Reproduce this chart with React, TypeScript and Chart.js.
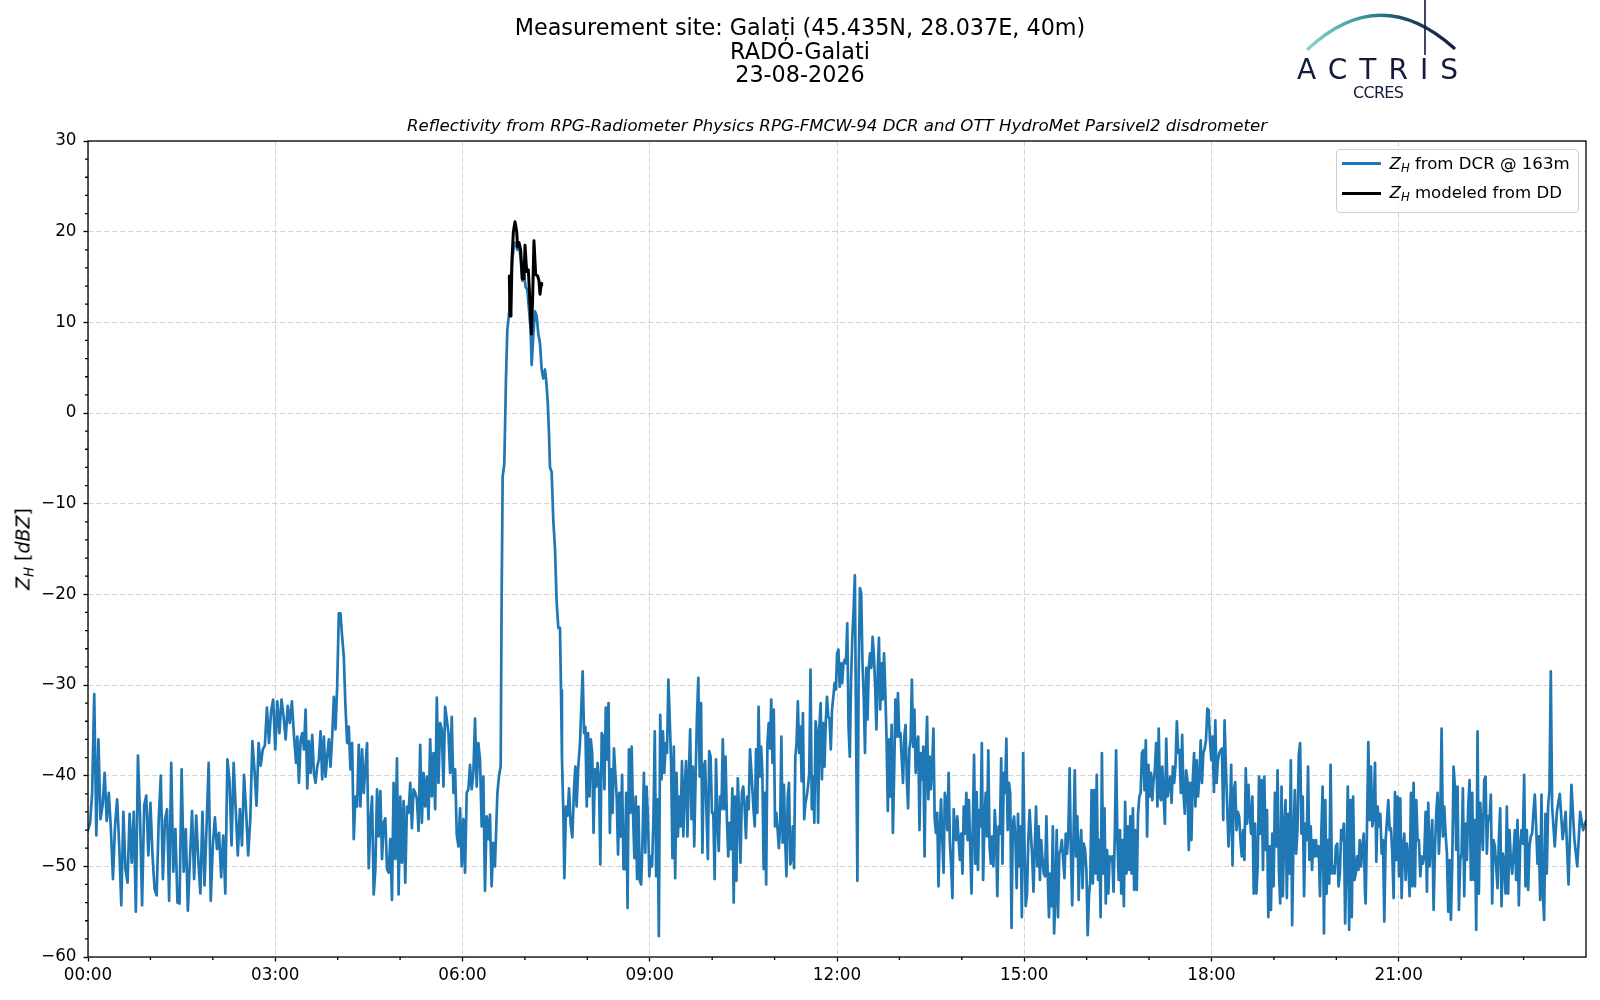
import React, { useEffect, useRef } from "react";
import { Chart, registerables } from "chart.js";

Chart.register(...registerables);

// ---------- text ----------
const TITLE_LINES = [
  "Measurement site: Galați (45.435N, 28.037E, 40m)",
  "RADO-Galati",
  "23-08-2026",
];
const SUBTITLE =
  "Reflectivity from RPG-Radiometer Physics RPG-FMCW-94 DCR and OTT HydroMet Parsivel2 disdrometer";
const LEGEND_DCR = " from DCR @ 163m";
const LEGEND_DD = " modeled from DD";

// ---------- axes ----------
const X_MIN = 0;
const X_MAX = 1440; // minutes of the day
const X_MAJOR_STEP = 180;
const X_MINOR = [60, 120, 240, 300, 420, 480, 600, 660, 780, 840, 960, 1020, 1140, 1200, 1320, 1380];
const Y_MIN = -60;
const Y_MAX = 30;
const Y_MAJOR_STEP = 10;
const Y_MINOR = [-58, -56, -54, -52, -48, -46, -44, -42, -38, -36, -34, -32, -28, -26, -24, -22, -18, -16, -14, -12, -8, -6, -4, -2, 2, 4, 6, 8, 12, 14, 16, 18, 22, 24, 26, 28];

// ---------- DCR reflectivity (dBZ) ----------
// each segment: [start minute, end minute], values evenly spread inside it
const DCR_A_SPAN = [0, 200];
const DCR_A = [-46,-45.2,-41.9,-31,-46.6,-36,-44.8,-43.3,-39.7,-45,-41.9,-45.9,-51.4,-45.5,-42.6,-47.7,-54.3,-44,-50.3,-51.8,-44.2,-49.6,-44,-55,-37.8,-44.4,-54.3,-43.3,-42.2,-48.8,-43,-48.8,-52.5,-53.2,-44.8,-40,-51.4,-44.8,-43.7,-53.8,-38.6,-50.6,-45.9,-54,-54.1,-39.3,-50.6,-45.9,-54.9,-49.2,-43.9,-51.4,-44.4,-49.2,-53,-44,-52.1,-45.5,-38.6,-53.8,-47.7,-44.6,-48.1,-46.3,-51.2,-46.6,-53,-38.2,-40.4,-47.7,-38.6,-43.7,-48.8,-43.7,-47.7,-39.9,-44,-48.8,-44.8,-36.2,-39.3,-43.3,-36.4,-38.9,-37.1,-36.7,-32.5,-36.4,-32.9,-31.6,-37.1,-31.8,-35.3,-31.6,-33.4,-36,-32.3,-34.2,-31.8,-35.6,-38.6];

const DCR_B_SPAN = [201.2, 391.2];
const DCR_B = [-35.7,-40.8,-36,-35.3,-37.1,-32.7,-41.4,-36.2,-39.7,-35.5,-39.7,-40.8,-39,-38.2,-35.1,-40.4,-35.7,-40.1,-37.9,-36,-39,-35.7,-31.3,-34.9,-30.2,-22.1,-22.1,-24.7,-26.9,-32.4,-36.4,-34.6,-39.3,-36.4,-47,-42.3,-43.4,-36.6,-43.4,-37.1,-41.9,-39,-36.4,-50.2,-45.2,-42.3,-53.1,-50.3,-41.5,-46.7,-41.7,-49.2,-45.2,-44.7,-50.3,-50.7,-47,-53.7,-40.8,-49.2,-38.1,-53.1,-42.3,-49.6,-42.8,-51.8,-43.4,-44.1,-40.8,-45.8,-41.5,-41.9,-42.6,-46.1,-36.6,-45.2,-39.7,-43.4,-40.1,-44.8,-36,-42.3,-37.5,-43.7,-31.4,-40.8,-34.2,-34.9,-41.2,-32.4,-33.8,-35.3,-39.7,-33.5,-41.9,-39.3,-46.5,-47.8,-43.6,-50,-44.8,-50.7,-41.9,-41.5,-38.8,-41.5,-39.7,-33.7,-41.2,-36.4,-38.2,-45.6,-40.1,-52.7,-44.5,-47,-44.3,-52.2,-47.4,-50];

// rain event: explicit times (minutes)
const DCR_C_TIMES = [393.5,395.1,396.7,397.6,398.6,400.2,401.8,403.1,405.0,406.3,407.9,409.5,411.1,412.7,414.3,415.9,417.5,419.1,420.7,422.3,423.9,425.5,426.5,428.1,429.7,431.3,432.9,434.5,436.1,437.7,439.3,440.3,441.9,443.1,444.1,445.7,447.3,448.9,450.5,452.1,453.7,454.7,455.6,456.9,457.9,459.5,461.1,462.4,464.0,465.6,467.2,468.5,469.7,471.3,472.9];
const DCR_C = [-42,-40,-39,-20.8,-7,-5.6,3.8,9.2,11.2,14.6,17,18.5,18.8,18,18.5,17,14.6,15.3,13.9,13.6,11.4,9.2,5.3,8.7,11.2,10.7,8.7,7.7,4.8,3.8,4.8,3.8,1.3,-2.1,-6,-6.5,-11.9,-14.9,-20.8,-23.7,-23.7,-30.6,-38,-43.9,-51.3,-43.4,-44.4,-41.4,-45.4,-46.8,-41.4,-39,-43.4,-39,-36.5];

const DCR_D_SPAN = [475.5, 636.4];
const DCR_D = [-28.5,-35.3,-34.6,-43.4,-35.3,-42.3,-36,-37.5,-46.3,-39.3,-41.2,-38.6,-40.4,-49.8,-35.3,-35.7,-41.5,-32.5,-38.2,-32,-46.3,-39.3,-44.1,-37,-39.7,-42.3,-48.7,-41.9,-46.7,-39.9,-50.3,-50.3,-41.9,-54.6,-37.1,-44.1,-36.8,-44.1,-49.1,-42.3,-51.4,-43.4,-51.6,-52,-47,-39.7,-48.5,-41.2,-44.8,-51.1,-48.9,-50,-44.8,-35.1,-51.1,-42.6,-57.7,-33.3,-40.4,-35.1,-39.7,-36.4,-37.5,-29.4,-33.8,-38.6,-49.1,-36.8,-51.3,-39.7,-46.7,-42.3,-45.6,-38.4,-46.7,-41.2,-38.4,-46.7,-40.1,-34.9,-44.8,-39,-47.8,-40.1,-33.5,-29.2,-40.1,-32,-48.5,-39,-38.4,-44.1,-49.2,-37.3,-37.9,-44.1,-44.1,-51.4,-38.2,-44.8,-48.3,-42.3,-43.7,-36,-43.7,-37.9,-44.8,-48.9,-45.2,-48.1,-41.4,-54,-42.3,-51.6,-40.3,-44.1,-49.6,-41.9,-41.2,-43.4,-46.9,-42.3,-43.7,-37.1];

const DCR_E_SPAN = [637.3, 833.4];
const DCR_E = [-37.1,-41.2,-43.7,-45.6,-37.1,-44.1,-32.4,-40.1,-36.8,-39.7,-50.3,-41.9,-52,-36.4,-34.2,-37,-31.6,-38.6,-32.7,-45.6,-44.1,-45.9,-48,-45.6,-35.7,-47.4,-41,-47,-51.1,-42.3,-40.8,-49.8,-49.2,-45.6,-50.2,-37.9,-36.4,-31.8,-37.5,-34.6,-40.6,-33.1,-44.8,-43,-42.3,-41.2,-39.7,-28.3,-43.7,-40.1,-45.2,-34,-35.3,-45.2,-34.6,-32,-40.4,-34.2,-39,-34.2,-31.3,-33.5,-33.7,-37.1,-32.7,-31.3,-29.8,-30.5,-26.5,-26.1,-30.2,-27.6,-29.8,-27.6,-27.2,-27.6,-23.2,-34.6,-37.9,-29.4,-24.7,-21.7,-17.9,-36,-51.6,-28.7,-19.3,-19.9,-27.6,-31.3,-37.5,-28.1,-33.8,-28,-26.5,-28.1,-24.7,-26.7,-30.2,-34.9,-28.7,-24.8,-32.7,-27.6,-31.6,-26.5,-30.5,-36,-43.9,-36,-42.3,-34.4,-46.3,-39.7,-31.6,-35.7,-30.9,-35.7,-35.3,-38.2,-40.8,-35.7,-34.4,-40.4,-43.6,-37.1,-36,-29.4,-36.8,-32.7,-39.7,-36.4,-35.7,-46,-37.5,-40.4,-36.8,-48.9,-37.9,-33.5,-42.6,-37.9,-41.5,-39,-34.8,-44.8,-46.3,-44.1,-52.2,-46.3,-42.6,-47,-50.7,-41.9,-43,-46,-39.7,-47.4,-50,-53.5,-43.7,-46];

const DCR_F_SPAN = [834.4, 1030.5];
const DCR_F = [-47.1,-44.5,-47.1,-49.3,-46.4,-50.8,-43.4,-46.4,-41.9,-47.1,-42.7,-47.8,-53,-45.6,-37.7,-49.7,-41.8,-50.4,-43.8,-45.6,-36.4,-51.5,-45.3,-41.9,-46.7,-37.2,-47.8,-49.7,-46.7,-50,-43.8,-46.4,-53.3,-45.6,-46.4,-38.1,-49.7,-39.7,-41.9,-35.9,-46,-40.8,-41.9,-56.8,-45.3,-44.5,-47.1,-52.4,-44.2,-50,-45.6,-55.6,-37.5,-47.1,-54.4,-53,-47.1,-43.8,-46.4,-48.9,-52.8,-47.8,-43.4,-50,-45.6,-51.5,-47.1,-49.3,-50.8,-51.1,-44.5,-50.8,-55.6,-50.8,-54.4,-45.6,-57.4,-53,-46,-55.6,-48.6,-48.2,-47.1,-49.3,-51.3,-46.4,-48.6,-46.2,-39.2,-48.6,-54.3,-46.7,-39.4,-48.9,-44.5,-53.7,-47.8,-46,-52.4,-47.5,-48.2,-50.4,-57.6,-53.3,-51.5,-41.6,-51.9,-41.6,-50.8,-39.9,-51.5,-47.1,-55.6,-37.5,-50.8,-43.6,-54.1,-48.2,-53,-48.9,-49.3,-48.9,-52.8,-46.4,-37.2,-47.1,-51.5,-46,-53,-47.1,-54.4,-42.9,-50.8,-45.6,-50.4,-44.5,-50.8,-43.6,-52.6,-46,-52.6,-44.2,-42.3,-41.9,-37.5,-37.2,-41.6,-36.1,-46.7,-38.8,-42.3,-39.7,-42.7,-40.5,-39.4,-36.4,-43.4,-34.8,-42.3];

const DCR_G_SPAN = [1031.4, 1227.6];
const DCR_G = [-42.7,-39,-42.3,-45.3,-35.9,-42.3,-41.2,-40.1,-43,-39,-40.8,-38.8,-34,-37.5,-37.2,-41.9,-35.5,-41.9,-44.2,-39.4,-40.5,-48.2,-40.8,-47.1,-40.5,-37.5,-43.4,-38.3,-42.3,-40.1,-36.1,-40.8,-37.5,-37,-36.1,-32.6,-32.8,-36.1,-38.3,-35.7,-41.8,-33.9,-40.8,-38.3,-37.5,-37.2,-37,-44.9,-33.9,-39,-43.4,-47.8,-44.9,-38.8,-49.9,-41.6,-40.7,-46,-44,-44.5,-47.1,-48.9,-46,-49.3,-39.2,-45.3,-41,-44.2,-46.4,-42.3,-53,-45.3,-53,-50,-40.1,-46.4,-40.5,-50.4,-40.1,-48.2,-43.8,-55.6,-47.8,-54.8,-46.4,-52.2,-41.9,-47.8,-39.4,-50.4,-54.1,-41.2,-53.3,-45.6,-42.7,-53.5,-44.2,-50.8,-38.3,-56.5,-47.1,-41.6,-48.6,-46,-37.7,-36.4,-46.4,-42.3,-53.3,-45.3,-47.1,-39,-49.3,-45.6,-50.4,-47.1,-48.9,-47.1,-48.9,-47.8,-53.3,-46.4,-41.2,-57.4,-42.7,-53,-47.1,-51.9,-38.8,-50.8,-50,-50.8,-47.8,-47.5,-52.2,-50.8,-46,-47.1,-45.3,-56.3,-48.9,-41.2,-57,-42.7,-55.6,-42.3,-51.5,-50.8,-48.9,-50.4,-47.1,-50,-47.8,-46.4,-53];

const DCR_H_SPAN = [1228.2, 1410];
const DCR_H = [-54.1,-45.6,-36.3,-44.9,-39,-45.6,-44.5,-38.6,-49.5,-43.4,-45.6,-44.2,-48.6,-47.1,-56.1,-47.1,-44.9,-42.7,-46,-45.8,-48.6,-53.5,-41.8,-49.3,-42.3,-51.1,-42.5,-53.5,-47.8,-46.4,-51.5,-47.5,-49.3,-53.3,-41.9,-52.2,-40.8,-52.2,-42.7,-47.1,-47.1,-51.1,-48.9,-49.7,-48.9,-44,-52.8,-43,-50,-47.5,-44.9,-54.8,-48.2,-44.2,-41.9,-48.6,-44.9,-34.8,-46.7,-43.4,-46.4,-48.6,-55,-49.3,-55.9,-49.7,-39,-41.2,-48.2,-41.2,-54.8,-49.3,-48.6,-41.4,-53.3,-45.3,-49.3,-43.4,-40.5,-51.5,-41.9,-51.5,-44.9,-57,-35.1,-53,-43,-45.6,-48.2,-40.5,-40.1,-48.6,-44.5,-44.9,-42.1,-54.1,-47.1,-47.8,-50,-52.4,-47.1,-43.6,-54.4,-48.6,-49.5,-53,-43.4,-53,-46,-49.3,-50.8,-48.6,-46,-51.5,-44.9,-54.3,-47.8,-46,-47.5,-39.9,-52.2,-46,-52.6,-47.8,-46.7,-46.4,-44,-42.1,-45.6,-49.7,-46.7,-53.7,-42.1,-53,-55.9,-44.2,-50.8,-43.4,-41.6,-28.5,-43.4,-45.6,-47.8];

const DCR_I_SPAN = [1412, 1440];
const DCR_I = [-44,-42,-47,-44,-52,-41,-47,-50,-44,-46,-45];

// ---------- reflectivity modeled from disdrometer (dBZ) ----------
const DD_TIMES = [405.0,405.7,406.6,407.6,408.9,410.5,412.1,413.0,414.3,415.9,417.5,419.1,420.1,421.7,423.3,424.9,426.2,427.4,428.7,430.3,432.3,433.5,434.5,435.5,436.1];
const DD_VALUES = [15.1,10.7,11.2,17,20,21.1,20,18.3,18.8,18,14.8,14.8,18.5,15.6,15.8,12.1,8.7,12.6,19,15.3,15.1,14.6,13.1,14.1,14.3];

// ---------- styles ----------
const BLUE = "#1f77b4";
const FONT = '"DejaVu Sans", "Noto Sans", sans-serif';
const NAVY = "#161a3c";
const TICK_FONT_SIZE = 16.8;

function spread(span: number[], vals: number[]) {
  const n = vals.length;
  return vals.map((v, i) => ({ x: span[0] + ((span[1] - span[0]) * i) / Math.max(1, n - 1), y: v }));
}
function paired(times: number[], vals: number[]) {
  return vals.map((v, i) => ({ x: times[i], y: v }));
}
function hhmm(m: number) {
  const h = Math.floor(m / 60);
  const mm = Math.round(m % 60);
  return String(h).padStart(2, "0") + ":" + String(mm).padStart(2, "0");
}

const framePlugin = {
  id: "mplFrame",
  afterDraw(chart: any) {
    const { ctx, chartArea, scales } = chart;
    const { left, right, top, bottom } = chartArea;
    ctx.save();
    ctx.strokeStyle = "#000";
    ctx.lineWidth = 1.3;
    ctx.beginPath();
    for (const m of X_MINOR) {
      const px = scales.x.getPixelForValue(m);
      ctx.moveTo(px, bottom);
      ctx.lineTo(px, bottom + 3);
    }
    for (const v of Y_MINOR) {
      const py = scales.y.getPixelForValue(v);
      ctx.moveTo(left - 3, py);
      ctx.lineTo(left, py);
    }
    ctx.stroke();
    ctx.strokeRect(left, top, right - left, bottom - top);
    ctx.restore();
  },
};

function ZH() {
  return (
    <span style={{ whiteSpace: "nowrap" }}>
      <span style={{ fontStyle: "italic" }}>Z</span>
      <span style={{ fontStyle: "italic", fontSize: "0.7em", position: "relative", top: "0.28em" }}>H</span>
    </span>
  );
}

export default function App() {
  const canvasRef = useRef<HTMLCanvasElement | null>(null);

  useEffect(() => {
    document.body.style.margin = "0";
    const canvas = canvasRef.current;
    if (!canvas) return;
    const blue = [
      ...spread(DCR_A_SPAN, DCR_A),
      ...spread(DCR_B_SPAN, DCR_B),
      ...paired(DCR_C_TIMES, DCR_C),
      ...spread(DCR_D_SPAN, DCR_D),
      ...spread(DCR_E_SPAN, DCR_E),
      ...spread(DCR_F_SPAN, DCR_F),
      ...spread(DCR_G_SPAN, DCR_G),
      ...spread(DCR_H_SPAN, DCR_H),
      ...spread(DCR_I_SPAN, DCR_I),
    ];
    const black = paired(DD_TIMES, DD_VALUES);

    const chart = new Chart(canvas, {
      type: "line",
      data: {
        datasets: [
          {
            label: "Z_H from DCR @ 163m",
            data: blue,
            borderColor: BLUE,
            backgroundColor: BLUE,
            borderWidth: 2.7,
            pointRadius: 0,
            tension: 0,
            borderJoinStyle: "round",
            borderCapStyle: "round",
            order: 2,
          },
          {
            label: "Z_H modeled from DD",
            data: black,
            borderColor: "#000",
            backgroundColor: "#000",
            borderWidth: 3,
            pointRadius: 0,
            tension: 0,
            borderJoinStyle: "round",
            borderCapStyle: "round",
            order: 1,
          },
        ],
      },
      options: {
        animation: false,
        responsive: false,
        devicePixelRatio: 1,
        events: [],
        layout: { padding: { top: 141, right: 14, bottom: 0, left: 0 } },
        plugins: {
          legend: { display: false },
          tooltip: { enabled: false },
          title: { display: false },
        },
        scales: {
          x: {
            type: "linear",
            min: X_MIN,
            max: X_MAX,
            afterFit: (s: any) => {
              s.height = 43;
            },
            ticks: {
              stepSize: X_MAJOR_STEP,
              autoSkip: false,
              maxRotation: 0,
              padding: 4,
              color: "#000",
              font: { family: FONT, size: TICK_FONT_SIZE },
              callback: (v: any) => (Number(v) >= X_MAX ? "" : hhmm(Number(v))),
            },
            grid: {
              color: (c: any) => (c.tick && c.tick.value >= X_MAX ? "rgba(0,0,0,0)" : "#d4d4d4"),
              lineWidth: 1,
              tickLength: 4.5,
              tickWidth: 1.3,
              tickColor: (c: any) => (c.tick && c.tick.value >= X_MAX ? "rgba(0,0,0,0)" : "#000"),
            },
            border: { display: false, dash: [5.5, 2.5] },
          },
          y: {
            type: "linear",
            min: Y_MIN,
            max: Y_MAX,
            afterFit: (s: any) => {
              s.width = 88;
            },
            ticks: {
              stepSize: Y_MAJOR_STEP,
              autoSkip: false,
              padding: 7,
              color: "#000",
              font: { family: FONT, size: TICK_FONT_SIZE },
              callback: (v: any) => String(v).replace("-", "\u2212"),
            },
            grid: {
              color: "#d4d4d4",
              lineWidth: 1,
              tickLength: 4.5,
              tickWidth: 1.3,
              tickColor: "#000",
            },
            border: { display: false, dash: [5.5, 2.5] },
          },
        },
      },
      plugins: [framePlugin],
    } as any);
    return () => chart.destroy();
  }, []);

  return (
    <div style={{ position: "relative", width: 1600, height: 1000, background: "#fff", overflow: "hidden", fontFamily: FONT, color: "#000" }}>
      <canvas ref={canvasRef} width={1600} height={1000} style={{ position: "absolute", left: 0, top: 0, display: "block" }} />

      {/* figure title */}
      <div style={{ position: "absolute", left: 0, top: 16.4, width: 1600, textAlign: "center", fontSize: "22.3px", lineHeight: "23.4px" }}>
        {TITLE_LINES.map((l) => (
          <div key={l}>{l}</div>
        ))}
      </div>

      {/* axes title */}
      <div style={{ position: "absolute", left: 237, top: 115.5, width: 1200, textAlign: "center", fontSize: "16.6px", lineHeight: "20px", fontStyle: "italic", whiteSpace: "nowrap" }}>
        {SUBTITLE}
      </div>

      {/* y axis label */}
      <div
        style={{
          position: "absolute",
          left: 23.5,
          top: 549,
          transform: "translate(-50%, -50%) rotate(-90deg)",
          fontSize: "19px",
          lineHeight: "24px",
          whiteSpace: "nowrap",
        }}
      >
        <ZH /> [<span style={{ fontStyle: "italic" }}>dBZ</span>]
      </div>

      {/* legend */}
      <div
        style={{
          position: "absolute",
          left: 1336,
          top: 149,
          width: 242.5,
          height: 63.5,
          boxSizing: "border-box",
          border: "1px solid #cfcfcf",
          borderRadius: 4,
          background: "rgba(255,255,255,0.8)",
        }}
      />
      <div style={{ position: "absolute", left: 1341.5, top: 162.2, width: 39.5, height: 2.7, background: BLUE }} />
      <div style={{ position: "absolute", left: 1341.5, top: 191.6, width: 39.5, height: 3, background: "#000" }} />
      <div style={{ position: "absolute", left: 1389.5, top: 153.5, height: 20, lineHeight: "20px", fontSize: "16.6px", whiteSpace: "nowrap" }}>
        <ZH />
        {LEGEND_DCR}
      </div>
      <div style={{ position: "absolute", left: 1389.5, top: 183.1, height: 20, lineHeight: "20px", fontSize: "16.6px", whiteSpace: "nowrap" }}>
        <ZH />
        {LEGEND_DD}
      </div>

      {/* ACTRIS logo */}
      <svg width={1600} height={110} style={{ position: "absolute", left: 0, top: 0 }}>
        <defs>
          <linearGradient id="actrisArc" x1="1308" y1="0" x2="1454" y2="0" gradientUnits="userSpaceOnUse">
            <stop offset="0" stopColor="#8fd0c6" />
            <stop offset="0.35" stopColor="#3a9ea0" />
            <stop offset="0.65" stopColor="#1f4d6a" />
            <stop offset="1" stopColor={NAVY} />
          </linearGradient>
        </defs>
        <path d="M 1308 49 Q 1380 -18 1454 48" fill="none" stroke="url(#actrisArc)" strokeWidth={3.2} strokeLinecap="round" />
        <line x1={1425} y1={0} x2={1425} y2={55} stroke={NAVY} strokeWidth={1.6} />
        <text x={1297} y={78.5} fontFamily="'DejaVu Sans', sans-serif" fontWeight={400} fontSize={28} fill={NAVY} textLength={161} lengthAdjust="spacing">
          ACTRIS
        </text>
        <text x={1352.9} y={98.3} fontFamily="'DejaVu Sans', sans-serif" fontWeight={400} fontSize={16} fill={NAVY} textLength={51} lengthAdjust="spacing">
          CCRES
        </text>
      </svg>
    </div>
  );
}
